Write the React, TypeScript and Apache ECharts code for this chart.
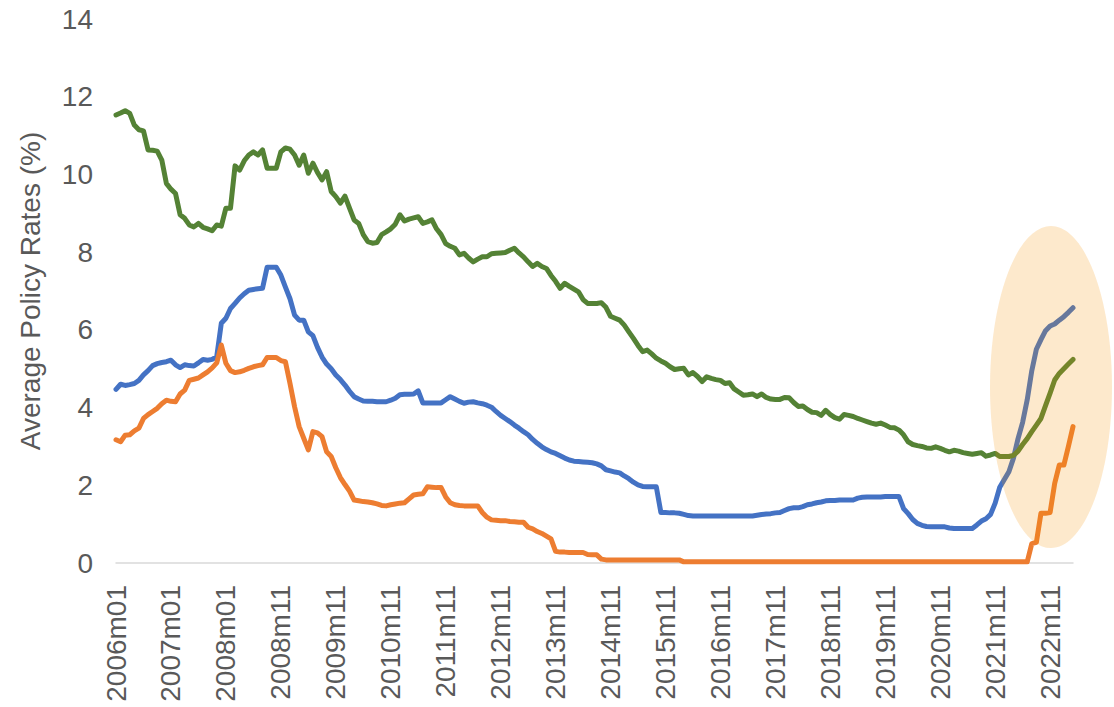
import React, { useEffect, useRef } from "react";
import * as echarts from "echarts";

const tickLabels = [
  "2006m01", "2007m01", "2008m01", "2008m11", "2009m11", "2010m11", "2011m11",
  "2012m11", "2013m11", "2014m11", "2015m11", "2016m11", "2017m11", "2018m11",
  "2019m11", "2020m11", "2021m11", "2022m11",
];

const greenValues = [
  11.53, 11.58, 11.64, 11.57, 11.27, 11.15, 11.12, 10.63, 10.62, 10.6,
  10.37, 9.77, 9.62, 9.51, 8.96, 8.87, 8.7, 8.65, 8.74, 8.64,
  8.6, 8.55, 8.7, 8.67, 9.13, 9.13, 10.22, 10.11, 10.35, 10.5,
  10.58, 10.5, 10.63, 10.16, 10.16, 10.16, 10.58, 10.68, 10.65, 10.5,
  10.24, 10.5, 10.03, 10.29, 10.05, 9.86, 10.07, 9.56, 9.43, 9.26,
  9.44, 9.13, 8.83, 8.74, 8.45, 8.27, 8.23, 8.25, 8.45, 8.52,
  8.6, 8.72, 8.96, 8.8, 8.85, 8.88, 8.91, 8.74, 8.78, 8.83,
  8.6, 8.45, 8.22, 8.15, 8.1, 7.93, 7.97, 7.85, 7.75, 7.82,
  7.88, 7.88, 7.96, 7.97, 7.98, 7.99, 8.05, 8.1, 7.98, 7.88,
  7.75, 7.63, 7.71, 7.63, 7.58, 7.4, 7.25, 7.07, 7.2, 7.12,
  7.05, 6.98, 6.78, 6.68, 6.68, 6.68, 6.7, 6.58, 6.35, 6.3,
  6.25, 6.12, 5.95, 5.78, 5.6, 5.44, 5.48, 5.38, 5.27, 5.2,
  5.14, 5.05, 4.98, 5.0, 5.01, 4.84, 4.9, 4.8, 4.67, 4.79,
  4.75, 4.72, 4.7, 4.62, 4.64, 4.48, 4.4, 4.32, 4.33, 4.35,
  4.28, 4.35, 4.26, 4.22, 4.21, 4.21, 4.26, 4.25, 4.13, 4.03,
  4.04, 3.95, 3.88, 3.87, 3.8, 3.93, 3.82, 3.74, 3.7, 3.82,
  3.8, 3.77, 3.72, 3.68, 3.64, 3.6, 3.57, 3.6, 3.55, 3.49,
  3.48, 3.42, 3.3, 3.12, 3.05, 3.02, 3.0, 2.96, 2.95, 2.99,
  2.95, 2.9, 2.86, 2.9, 2.88, 2.84, 2.82, 2.8, 2.82, 2.84,
  2.75, 2.78, 2.82, 2.74, 2.74, 2.74, 2.77, 2.88, 3.05, 3.2,
  3.38, 3.55, 3.72, 4.05, 4.37, 4.71, 4.88, 5.0, 5.12, 5.24,
];

const blueValues = [
  4.47, 4.6, 4.57, 4.59, 4.62, 4.7, 4.84, 4.95, 5.08, 5.13,
  5.16, 5.18, 5.22, 5.1, 5.03, 5.1, 5.08, 5.07, 5.15, 5.24,
  5.22, 5.24, 5.31, 6.17, 6.3, 6.55, 6.68, 6.82, 6.93, 7.02,
  7.04, 7.06, 7.07, 7.61, 7.61, 7.61, 7.41, 7.1, 6.8, 6.38,
  6.25, 6.25, 5.95, 5.85, 5.55, 5.3, 5.12, 5.0, 4.84, 4.72,
  4.58, 4.42, 4.28, 4.22, 4.17, 4.16, 4.16, 4.15, 4.15, 4.15,
  4.19, 4.24, 4.33, 4.34, 4.34, 4.35, 4.43, 4.12, 4.12, 4.12,
  4.12, 4.12, 4.2, 4.28, 4.22, 4.16, 4.11, 4.14, 4.15, 4.12,
  4.1, 4.06, 4.01, 3.9, 3.8, 3.72, 3.64, 3.55, 3.47, 3.38,
  3.3, 3.18, 3.08, 2.99, 2.92, 2.86, 2.82, 2.76, 2.7, 2.65,
  2.62, 2.61, 2.6, 2.59, 2.58, 2.55, 2.5, 2.4, 2.37, 2.34,
  2.32, 2.24, 2.17, 2.08, 2.01, 1.97, 1.96, 1.96, 1.96, 1.3,
  1.3, 1.29, 1.29, 1.28, 1.25, 1.22, 1.21, 1.21, 1.21, 1.21,
  1.21, 1.21, 1.21, 1.21, 1.21, 1.21, 1.21, 1.21, 1.21, 1.21,
  1.23, 1.25, 1.26, 1.27, 1.29, 1.3, 1.35, 1.4, 1.42, 1.42,
  1.45, 1.5, 1.52, 1.55, 1.57, 1.6, 1.61, 1.61, 1.62, 1.62,
  1.62, 1.62, 1.67, 1.69, 1.7, 1.7, 1.7, 1.7, 1.71, 1.71,
  1.71, 1.71, 1.4, 1.27, 1.12, 1.02, 0.97, 0.94, 0.93, 0.93,
  0.93, 0.93, 0.9, 0.89, 0.89, 0.89, 0.89, 0.89, 0.98, 1.08,
  1.14, 1.25, 1.54, 1.95, 2.15, 2.35, 2.7, 3.2, 3.62, 4.2,
  4.95, 5.5, 5.75, 5.98, 6.1, 6.15, 6.25, 6.34, 6.45, 6.57,
];

const orangeValues = [
  3.17, 3.12, 3.29, 3.3, 3.4, 3.47, 3.72, 3.82, 3.9, 3.98,
  4.1, 4.19, 4.16, 4.15, 4.35, 4.45, 4.7, 4.73, 4.76, 4.84,
  4.92, 5.02, 5.15, 5.61, 5.14, 4.95, 4.9, 4.92, 4.96, 5.01,
  5.05, 5.08, 5.1, 5.29, 5.29, 5.29, 5.21, 5.18, 4.62, 4.02,
  3.51, 3.21, 2.91, 3.38, 3.35, 3.25, 2.86, 2.74, 2.45, 2.2,
  2.02, 1.85, 1.62, 1.6, 1.58, 1.57, 1.55, 1.52, 1.48, 1.47,
  1.5, 1.52, 1.54, 1.55, 1.65, 1.75, 1.77, 1.78, 1.96, 1.95,
  1.94, 1.94, 1.7, 1.55, 1.5, 1.48, 1.47, 1.47, 1.47, 1.47,
  1.3, 1.18, 1.11, 1.1, 1.09, 1.09, 1.07, 1.06, 1.05, 1.05,
  0.92, 0.88, 0.81, 0.76, 0.69, 0.62, 0.3, 0.28, 0.28, 0.27,
  0.27, 0.27, 0.27, 0.22, 0.21, 0.21, 0.1, 0.08, 0.08, 0.08,
  0.08, 0.08, 0.08, 0.08, 0.08, 0.08, 0.08, 0.08, 0.08, 0.08,
  0.08, 0.08, 0.08, 0.08, 0.03, 0.03, 0.03, 0.03, 0.03, 0.03,
  0.03, 0.03, 0.03, 0.03, 0.03, 0.03, 0.03, 0.03, 0.03, 0.03,
  0.03, 0.03, 0.03, 0.03, 0.03, 0.03, 0.03, 0.03, 0.03, 0.03,
  0.03, 0.03, 0.03, 0.03, 0.03, 0.03, 0.03, 0.03, 0.03, 0.03,
  0.03, 0.03, 0.03, 0.03, 0.03, 0.03, 0.03, 0.03, 0.03, 0.03,
  0.03, 0.03, 0.03, 0.03, 0.03, 0.03, 0.03, 0.03, 0.03, 0.03,
  0.03, 0.03, 0.03, 0.03, 0.03, 0.03, 0.03, 0.03, 0.03, 0.03,
  0.03, 0.03, 0.03, 0.03, 0.03, 0.03, 0.03, 0.03, 0.03, 0.03,
  0.5, 0.53, 1.28, 1.28, 1.3, 2.05, 2.52, 2.52, 3.0, 3.51,
];

const categories = greenValues.map((_, i) => String(i));

const TEXT = "#595959";
const FONT = "'Liberation Sans', Arial, sans-serif";

export default function App() {
  const ref = useRef<HTMLDivElement>(null);

  useEffect(() => {
    if (!ref.current) return;
    const chart = echarts.init(ref.current, null, { renderer: "svg" });
    const lineStyle = (color: string) => ({
      color,
      width: 5,
      cap: "round",
      join: "round",
    });
    chart.setOption({
      animation: false,
      backgroundColor: "#ffffff",
      textStyle: { fontFamily: FONT },
      grid: {
        left: 116,
        right: 41,
        top: 19,
        bottom: 144,
        containLabel: false,
        outerBoundsMode: "none",
      },
      xAxis: {
        type: "category",
        data: categories,
        boundaryGap: false,
        axisLine: { show: true, lineStyle: { color: "#D9D9D9", width: 1.5 } },
        axisTick: { show: false },
        axisLabel: {
          interval: 11,
          rotate: 90,
          margin: 22,
          fontSize: 28,
          color: TEXT,
          fontFamily: FONT,
          formatter: (_v: string, idx: number) =>
            idx % 12 === 0 ? tickLabels[idx / 12] ?? "" : "",
        },
        splitLine: { show: false },
      },
      yAxis: {
        type: "value",
        min: 0,
        max: 14,
        interval: 2,
        name: "Average Policy Rates (%)",
        nameLocation: "middle",
        nameRotate: 90,
        nameGap: 72,
        nameTextStyle: { fontSize: 28, color: TEXT, fontFamily: FONT },
        axisLine: { show: false },
        axisTick: { show: false },
        splitLine: { show: false },
        axisLabel: { fontSize: 28, color: TEXT, margin: 23, fontFamily: FONT },
      },
      series: [
        {
          type: "line",
          data: blueValues,
          showSymbol: false,
          symbol: "none",
          lineStyle: lineStyle("#4472C4"),
          z: 2,
        },
        {
          type: "line",
          data: orangeValues,
          showSymbol: false,
          symbol: "none",
          lineStyle: lineStyle("#ED7D31"),
          z: 3,
        },
        {
          type: "line",
          data: greenValues,
          showSymbol: false,
          symbol: "none",
          lineStyle: lineStyle("#548235"),
          z: 4,
        },
      ],
      graphic: [
        {
          type: "ellipse",
          z: 100,
          shape: { cx: 1051, cy: 387, rx: 61, ry: 161 },
          style: { fill: "rgba(245,145,0,0.2)" },
          silent: true,
        },
      ],
    });
    return () => chart.dispose();
  }, []);

  return (
    <div
      ref={ref}
      style={{ position: "fixed", left: 0, top: 0, width: 1114, height: 707 }}
    />
  );
}
